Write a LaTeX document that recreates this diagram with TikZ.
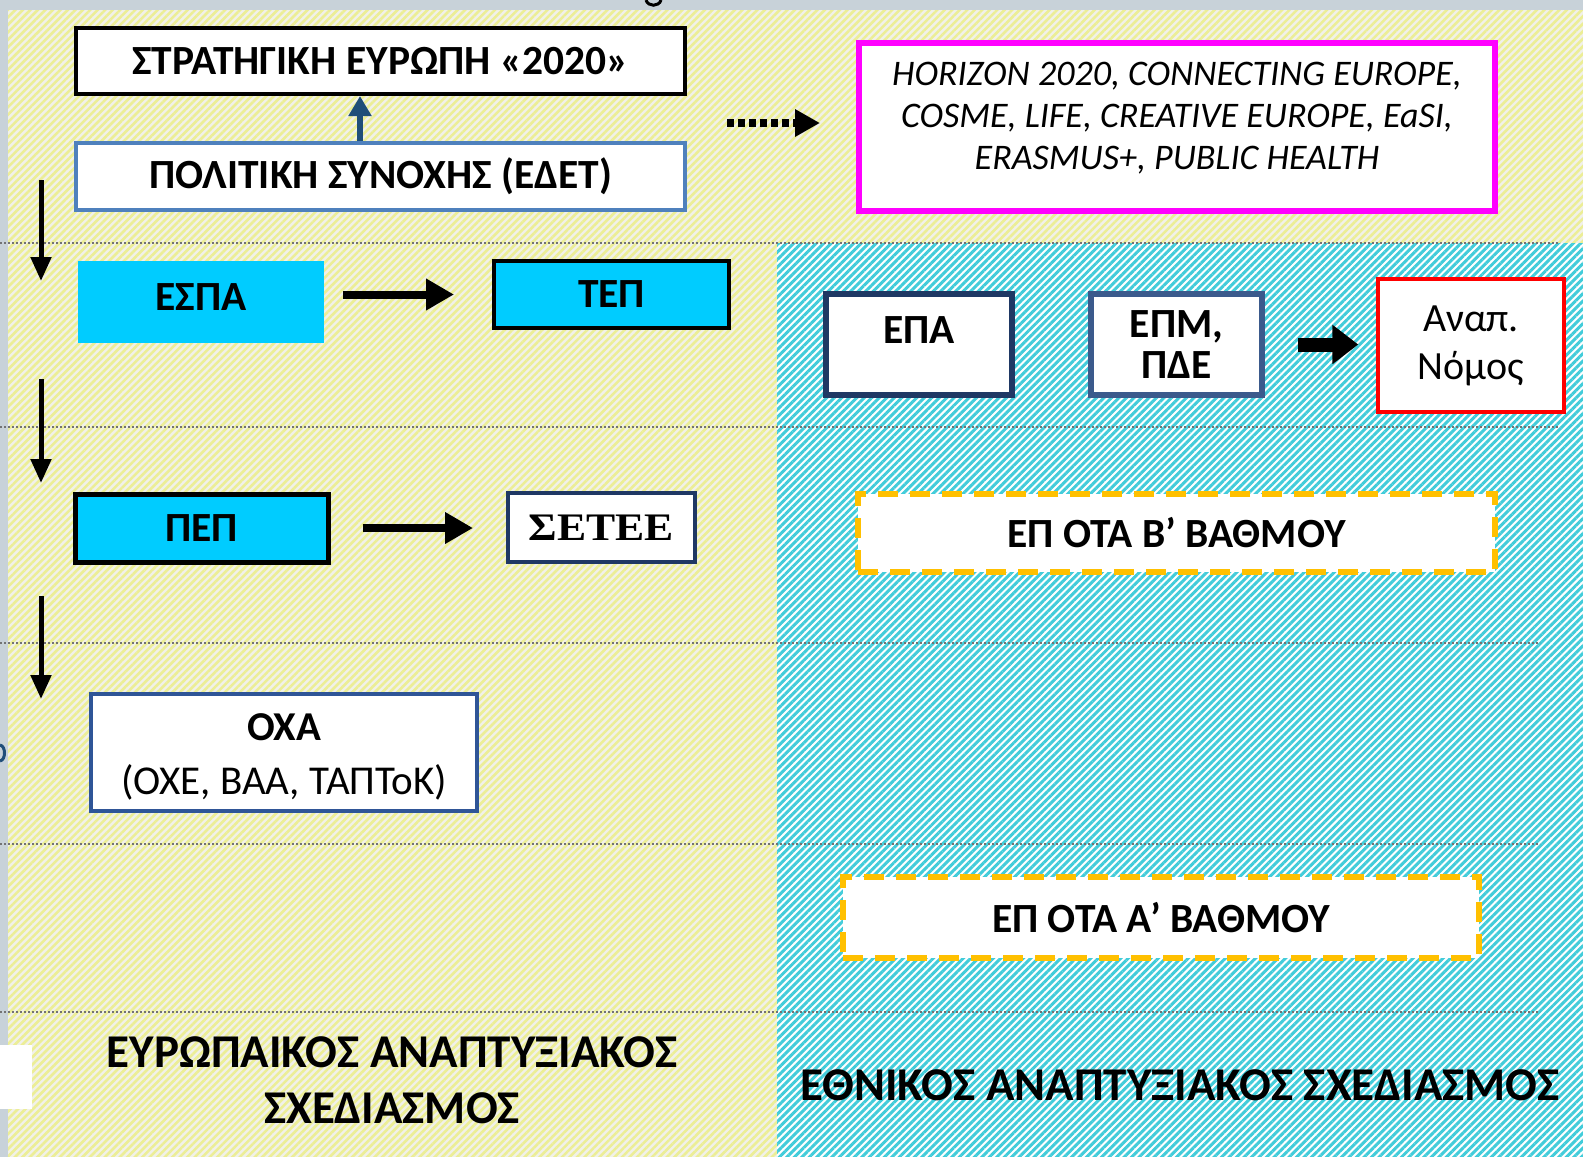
\documentclass[tikz,border=0pt]{standalone}
\usepackage{fontspec}
\setmainfont{Carlito}
\newfontfamily\seteefont[FakeStretch=1.12]{Liberation Serif}
\usetikzlibrary{%
	arrows.meta,%
	patterns.meta,%
	calc,%
	positioning
}
\definecolor{panelgrey}{RGB}{200,210,217}
\definecolor{euback}{RGB}{241,241,233}
\definecolor{eustripe}{RGB}{236,238,150}
\definecolor{natstripe}{RGB}{66,204,218}
\definecolor{progcyan}{RGB}{0,204,255}
\definecolor{progmagenta}{RGB}{255,0,255}
\definecolor{cohesionblue}{RGB}{79,129,189}
\definecolor{arrowblue}{RGB}{31,78,121}
\definecolor{navy}{RGB}{31,56,100}
\definecolor{slateblue}{RGB}{59,90,140}
\definecolor{ochablue}{RGB}{47,85,151}
\definecolor{otaorange}{RGB}{255,192,0}

\begin{document}
\begin{tikzpicture}[x=1pt,y=-1pt,
		box/.style={draw, fill=white, inner sep=0pt, align=center,
			font=\fontsize{41.5}{41}\selectfont\bfseries},
		otabox/.style={box, draw=otaorange, line width=6pt,
			dash pattern=on 20pt off 12pt},
		flowarrow/.style={-{Triangle[length=28pt,width=30pt]}, line width=8pt},
		downarrow/.style={-{Triangle[length=24pt,width=20pt]}, line width=5pt},
		sepline/.style={draw=black!55, line width=2pt, dash pattern=on 2pt off 2pt},
		biglabel/.style={align=center, font=\fontsize{47}{56}\selectfont\bfseries}
	]
	\useasboundingbox (0,0) rectangle (1583,1157);

	% Background: grey frame, two hatched panels
	\fill[panelgrey] (0,0) rectangle (1583,1157);
	\fill[euback] (8,10) -- (1583,10) -- (1583,243) -- (777,243) -- (777,1157) -- (8,1157) -- cycle;
	\fill[pattern={Lines[angle=45,distance=5.3pt,line width=2.6pt]}, pattern color=eustripe]
		(8,10) -- (1583,10) -- (1583,243) -- (777,243) -- (777,1157) -- (8,1157) -- cycle;
	\fill[white] (777,243) rectangle (1583,1157);
	\fill[pattern={Lines[angle=45,distance=5.3pt,line width=3pt]}, pattern color=natstripe]
		(777,243) rectangle (1583,1157);
	\fill[white] (0,1045) rectangle (32,1109);
	\draw[arrowblue, line width=3pt] (0,745) .. controls (6,746) and (6,760) .. (0,761);
	\draw[line width=3pt] (646,0) .. controls (648,7) and (659,7) .. (661,0);

	% Dotted separators
	\foreach \y/\xe in {243/1560, 427/1560, 643/1540, 844/1540, 1012/1540}
		\draw[sepline] (0,\y) -- (\xe,\y);

	% European side
	\node[box, line width=4pt, minimum width=609pt, minimum height=66pt] (strategy) at (380.5,61) {ΣΤΡΑΤΗΓΙΚΗ ΕΥΡΩΠΗ «2020»};
	\node[box, draw=cohesionblue, line width=3.5pt, minimum width=609pt, minimum height=67pt] (cohesion) at (380.5,176.5) {ΠΟΛΙΤΙΚΗ ΣΥΝΟΧΗΣ (ΕΔΕΤ)};
	\draw[-{Triangle[length=20pt,width=22pt]}, arrowblue, line width=6pt]
		($(cohesion.north)+(-20.5,0)$) -- ($(strategy.south)+(-20.5,0)$);

	\node[box, draw=progmagenta, line width=6pt, minimum width=636pt, minimum height=168pt] (programmes) at (1177,127) {};
	\node[align=center, font=\fontsize{36}{42}\selectfont\itshape] (programmestext) at ($(programmes.center)+(0,-9)$)
		{HORIZON 2020, CONNECTING EUROPE,\\COSME, LIFE, CREATIVE EUROPE, EaSI,\\ERASMUS+, PUBLIC HEALTH};
	\coordinate (dotstart) at (727,123);
	\draw[-{Triangle[length=25pt,width=26pt]}, line width=8pt, dash pattern=on 7pt off 4pt]
		(dotstart) -- ($(programmes.west |- dotstart)+(-36,0)$);

	\foreach \ya/\yb in {180/281, 379/483, 596/699}
		\draw[downarrow] (41,\ya) -- (41,\yb);

	\node[box, draw=none, fill=progcyan, minimum width=246pt, minimum height=82pt] (espa) at (201,302) {};
	\node[font=\fontsize{41.5}{41}\selectfont\bfseries] (espatext) at ($(espa.center)+(0,-5)$) {ΕΣΠΑ};
	\node[box, fill=progcyan, line width=4pt, minimum width=235pt, minimum height=67pt] (tep) at (611.5,294.5) {ΤΕΠ};
	\draw[flowarrow] ($(espa.east |- tep.west)+(19,0)$) -- ($(tep.west)+(-38,0)$);

	\node[box, fill=progcyan, line width=5pt, minimum width=253pt, minimum height=68pt] (pep) at (201.5,528) {ΠΕΠ};
	\node[box, draw=navy, line width=4pt, minimum width=187pt, minimum height=69pt,
		font=\fontsize{39}{41}\seteefont\bfseries] (setee) at (601.5,527.5) {ΣΕΤΕΕ};
	\draw[flowarrow] ($(pep.east)+(32,0)$) -- ($(setee.west |- pep.east)+(-33,0)$);

	\node[box, draw=ochablue, line width=4pt, minimum width=386pt, minimum height=117pt] (ocha) at (284,752.5) {};
	\node[align=center, font=\fontsize{41}{54}\selectfont] (ochatext) at ($(ocha.center)+(0,4)$) {\textbf{ΟΧΑ}\\(ΟΧΕ, ΒΑΑ, ΤΑΠΤοΚ)};

	% National side
	\node[box, draw=navy, line width=6pt, minimum width=186pt, minimum height=101pt] (epa) at (919,344.5) {};
	\node[font=\fontsize{41.5}{41}\selectfont\bfseries] (epatext) at ($(epa.center)+(0,-14.5)$) {ΕΠΑ};
	\node[box, draw=slateblue, line width=6pt, minimum width=171pt, minimum height=101pt] (epm) at (1176.5,344.5) {ΕΠΜ,\\ΠΔΕ};
	\node[box, draw=red, line width=3.5pt, minimum width=186pt, minimum height=133pt,
		font=\fontsize{40}{48}\selectfont] (law) at (1471,345.5) {Αναπ.\\Νόμος};
	\draw[-{Triangle[length=26pt,width=38pt]}, line width=14pt]
		($(epm.east)+(33,0)$) -- ($(law.west |- epm.east)+(-18,0)$);

	\node[otabox, minimum width=637pt, minimum height=78pt] (otab) at (1176.5,533) {ΕΠ ΟΤΑ Β’ ΒΑΘΜΟΥ};
	\node[otabox, minimum width=636pt, minimum height=81pt] (otaa) at (1161,917.5) {ΕΠ ΟΤΑ Α’ ΒΑΘΜΟΥ};

	% Panel titles
	\node[biglabel] (eutitle) at (392,1080) {ΕΥΡΩΠΑΙΚΟΣ ΑΝΑΠΤΥΞΙΑΚΟΣ\\ΣΧΕΔΙΑΣΜΟΣ};
	\node[biglabel] (nattitle) at (1180,1085) {ΕΘΝΙΚΟΣ ΑΝΑΠΤΥΞΙΑΚΟΣ ΣΧΕΔΙΑΣΜΟΣ};
\end{tikzpicture}
\end{document}
